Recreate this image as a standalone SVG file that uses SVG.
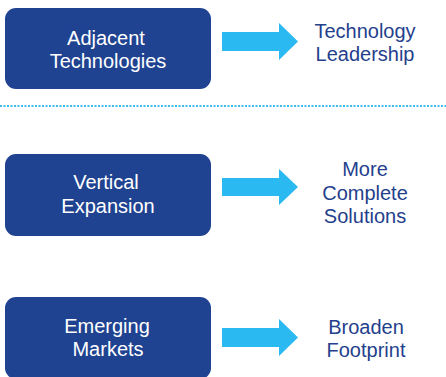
<svg xmlns="http://www.w3.org/2000/svg" width="446" height="377" viewBox="0 0 446 377">
<style>
.box{fill:#1f4391}
.arrow{fill:#2bb9f1}
.lt{font-family:"Liberation Sans",Arial,sans-serif;font-size:20px;fill:#ffffff;text-anchor:middle}
.rt{font-family:"Liberation Sans",Arial,sans-serif;font-size:20px;fill:#243f8c;text-anchor:middle}
</style>
<rect width="446" height="377" fill="#ffffff"/>
<g id="node-adjacent">
<rect class="box" x="5" y="8" width="206" height="81" rx="11"/>
<text class="lt" x="106" y="45">Adjacent</text>
<text class="lt" x="108" y="68">Technologies</text>
</g>
<g id="node-leadership">
<text class="rt" x="365" y="38">Technology</text>
<text class="rt" x="365" y="61">Leadership</text>
</g>
<g id="node-vertical">
<rect class="box" x="5" y="154" width="206" height="82" rx="11"/>
<text class="lt" x="106" y="189">Vertical</text>
<text class="lt" x="108" y="213">Expansion</text>
</g>
<g id="node-solutions">
<text class="rt" x="365" y="176">More</text>
<text class="rt" x="365" y="200">Complete</text>
<text class="rt" x="365" y="223">Solutions</text>
</g>
<g id="node-emerging">
<rect class="box" x="5" y="297" width="206" height="82" rx="11"/>
<text class="lt" x="107" y="333">Emerging</text>
<text class="lt" x="108" y="356">Markets</text>
</g>
<g id="node-footprint">
<text class="rt" x="366" y="334">Broaden</text>
<text class="rt" x="366" y="357">Footprint</text>
</g>
<g id="connectors">
<polygon class="arrow" points="222,32 279,32 279,23 298,41.5 279,60 279,51 222,51"/>
<polygon class="arrow" points="222,178 279,178 279,169 298,187 279,205 279,196 222,196"/>
<polygon class="arrow" points="222,328 279,328 279,319 298,337.5 279,356 279,347 222,347"/>
<line x1="0" y1="106" x2="446" y2="106" stroke="#3dbcf0" stroke-width="2" stroke-dasharray="2 1.5"/>
</g>
</svg>
